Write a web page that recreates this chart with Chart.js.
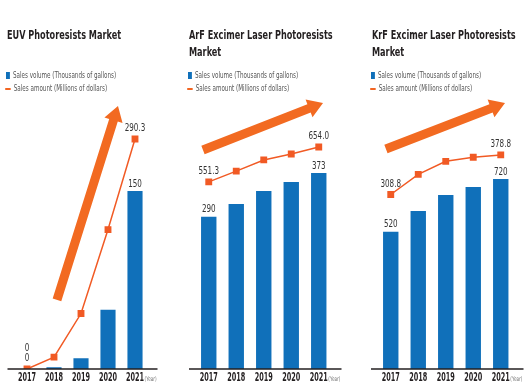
<!DOCTYPE html>
<html>
<head>
<meta charset="utf-8">
<script src="https://cdn.jsdelivr.net/npm/chart.js@4.4.0/dist/chart.umd.min.js"></script>
<style>
  body { margin: 0; background: #fff; width: 525px; height: 387px; overflow: hidden; position: relative;
         font-family: "DejaVu Sans Condensed", "DejaVu Sans", sans-serif; }
  .panel { position: absolute; top: 0; width: 175px; height: 387px; }
  .panel canvas { position: absolute; left: 0; top: 0; }
  .title { position: absolute; top: 27px; font-weight: bold; font-size: 12px; line-height: 17px; color: #231f20;
           white-space: nowrap; transform: scaleX(0.755); transform-origin: 0 0; }
  .legend { position: absolute; top: 69px; font-size: 8px; line-height: 13px; color: #555;
            white-space: nowrap; transform: scaleX(0.78); transform-origin: 0 0; }
  .sw { display: inline-block; vertical-align: middle; margin-right: 4px; }
  .sw.bar { width: 5px; height: 7px; background: #1070ba; }
  .sw.line { width: 7px; height: 2px; background: #f26522; margin-left: -1px; margin-right: 4px; }
</style>
</head>
<body>
<div class="panel" style="left:0">
  <canvas id="euv" width="175" height="387"></canvas>
  <div class="title" style="left:7px">EUV Photoresists Market</div>
  <div class="legend" style="left:6px">
    <div><span class="sw bar"></span>Sales volume (Thousands of gallons)</div>
    <div><span class="sw line"></span>Sales amount (Millions of dollars)</div>
  </div>
</div>
<div class="panel" style="left:175px">
  <canvas id="arf" width="175" height="387"></canvas>
  <div class="title" style="left:14px">ArF Excimer Laser Photoresists<br>Market</div>
  <div class="legend" style="left:13px">
    <div><span class="sw bar"></span>Sales volume (Thousands of gallons)</div>
    <div><span class="sw line"></span>Sales amount (Millions of dollars)</div>
  </div>
</div>
<div class="panel" style="left:350px">
  <canvas id="krf" width="175" height="387"></canvas>
  <div class="title" style="left:22px">KrF Excimer Laser Photoresists<br>Market</div>
  <div class="legend" style="left:21px">
    <div><span class="sw bar"></span>Sales volume (Thousands of gallons)</div>
    <div><span class="sw line"></span>Sales amount (Millions of dollars)</div>
  </div>
</div>
<script>
const years = ["2017", "2018", "2019", "2020", "2021"];
const euvVolume = [0, 1.5, 9, 50, 150];
const euvAmount = [0, 15, 70, 176, 290.3];
const arfVolume = [290, 314, 339, 356, 373];
const arfAmount = [551.3, 583, 616, 633.5, 654.0];
const krfVolume = [520, 599, 660, 690, 720];
const krfAmount = [308.8, 344.5, 367.5, 374.6, 378.8];
const labelIdx = [0, 4];

const BLUE = "#1070ba";
const ORANGE = "#f15a24";
const ARROW = "#f26a21";
const FONT = '"DejaVu Sans Condensed", "DejaVu Sans", sans-serif';

function drawArrow(ctx, x1, y1, x2, y2) {
  var dx = x2 - x1, dy = y2 - y1;
  var len = Math.sqrt(dx * dx + dy * dy);
  var ux = dx / len, uy = dy / len;
  var px = -uy, py = ux;
  var w = 4.5, hw = 9.5, hl = 15;
  var bx = x2 - ux * hl, by = y2 - uy * hl;
  ctx.beginPath();
  ctx.moveTo(x1 + px * w, y1 + py * w);
  ctx.lineTo(bx + px * w, by + py * w);
  ctx.lineTo(bx + px * hw, by + py * hw);
  ctx.lineTo(x2, y2);
  ctx.lineTo(bx - px * hw, by - py * hw);
  ctx.lineTo(bx - px * w, by - py * w);
  ctx.lineTo(x1 - px * w, y1 - py * w);
  ctx.closePath();
  ctx.fillStyle = ARROW;
  ctx.fill();
}

// narrow text: the reference uses a condensed face, so squeeze horizontally
function narrowText(ctx, text, x, y, sx, align) {
  ctx.save();
  ctx.translate(x, y);
  ctx.scale(sx, 1);
  ctx.textAlign = align;
  ctx.fillText(text, 0, 0);
  ctx.restore();
}

const decor = {
  id: "decor",
  beforeDatasetsDraw: function (chart) {
    var a = chart.options.plugins.decor.arrow;
    var ca = chart.chartArea, ctx = chart.ctx;
    var w = ca.right - ca.left, h = ca.bottom - ca.top;
    ctx.save();
    drawArrow(ctx, ca.left + a[0] * w, ca.top + a[1] * h, ca.left + a[2] * w, ca.top + a[3] * h);
    ctx.restore();
  },
  afterDatasetsDraw: function (chart) {
    var ctx = chart.ctx, ca = chart.chartArea, xs = chart.scales.x;
    var lineMeta = chart.getDatasetMeta(0), barMeta = chart.getDatasetMeta(1);
    var lineData = chart.data.datasets[0].data, barData = chart.data.datasets[1].data;
    ctx.save();
    // baseline
    ctx.strokeStyle = "#231f20";
    ctx.lineWidth = 1.5;
    ctx.beginPath();
    ctx.moveTo(ca.left - 6, ca.bottom);
    ctx.lineTo(ca.right + 9, ca.bottom);
    ctx.stroke();
    // value labels
    ctx.font = "10px " + FONT;
    ctx.fillStyle = "#333";
    ctx.textBaseline = "middle";
    labelIdx.forEach(function (i) {
      var bar = barMeta.data[i], pt = lineMeta.data[i];
      var by = bar.y - 7, ly = pt.y - 10.5;
      var bText = String(barData[i]);
      var lText = lineData[i] === 0 ? "0" : lineData[i].toFixed(1);
      if (Math.abs(by - ly) < 10) {
        var low = Math.min(by, ly);
        narrowText(ctx, lText, pt.x, low, 0.8, "center");
        narrowText(ctx, bText, bar.x, low - 10, 0.8, "center");
      } else {
        narrowText(ctx, bText, bar.x, by, 0.8, "center");
        narrowText(ctx, lText, pt.x, ly, 0.8, "center");
      }
    });
    // year tick labels on the category scale
    ctx.font = "bold 11.5px " + FONT;
    ctx.fillStyle = "#231f20";
    var ty = ca.bottom + 9.5;
    chart.data.labels.forEach(function (lab, i) {
      narrowText(ctx, lab, xs.getPixelForValue(i), ty, 0.63, "center");
    });
    var tw = ctx.measureText(years[years.length - 1]).width * 0.63;
    ctx.font = "6.5px " + FONT;
    ctx.fillStyle = "#777";
    narrowText(ctx, "(Year)", xs.getPixelForValue(years.length - 1) + tw / 2 + 0.5, ty + 1, 0.72, "left");
    ctx.restore();
  }
};

function makeChart(id, volume, amount, barMax, lineMax, padL, padR, arrow) {
  var ctx = document.getElementById(id).getContext("2d");
  return new Chart(ctx, {
    type: "bar",
    data: {
      labels: years,
      datasets: [
        {
          type: "line",
          label: "Sales amount (Millions of dollars)",
          data: amount,
          yAxisID: "y1",
          borderColor: ORANGE,
          backgroundColor: ORANGE,
          borderWidth: 1.5,
          pointStyle: "rect",
          pointRadius: 3.8,
          order: 0
        },
        {
          type: "bar",
          label: "Sales volume (Thousands of gallons)",
          data: volume,
          yAxisID: "y",
          backgroundColor: BLUE,
          barPercentage: 0.56,
          categoryPercentage: 1,
          order: 1
        }
      ]
    },
    options: {
      responsive: false,
      animation: false,
      devicePixelRatio: 1,
      layout: { padding: { left: padL, right: padR, top: 100, bottom: 18 } },
      plugins: {
        legend: { display: false },
        tooltip: { enabled: false },
        decor: { arrow: arrow }
      },
      scales: {
        x: { display: false },
        y: { display: false, min: 0, max: barMax },
        y1: { display: false, min: 0, max: lineMax }
      }
    },
    plugins: [decor]
  });
}

makeChart("euv", euvVolume, euvAmount, 226.6, 339.6, 13.5, 26.5, [0.322, 0.743, 0.774, 0.022]);
makeChart("arf", arfVolume, arfAmount, 512, 792.6, 20, 17.5, [0.058, 0.186, 0.931, 0.011]);
makeChart("krf", krfVolume, krfAmount, 1020, 476, 27, 10.5, [0.065, 0.182, 0.931, 0.011]);
</script>
</body>
</html>
